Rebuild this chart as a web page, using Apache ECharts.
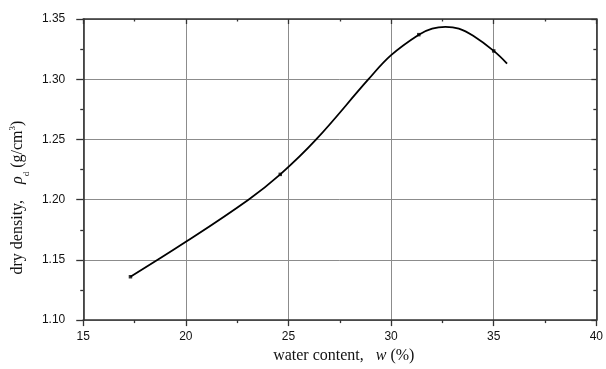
<!DOCTYPE html>
<html>
<head>
<meta charset="utf-8">
<script src="https://cdn.jsdelivr.net/npm/echarts@6/dist/echarts.min.js"></script>
<style>
  html, body { margin: 0; padding: 0; background: #fff; }
  #chart { width: 606px; height: 369px; }
</style>
</head>
<body>
<div id="chart"></div>
<script>
// Fitted compaction curve: water content (%) vs dry density (g/cm3)
const curveW   = [17.3, 20.0, 23.05, 24.6, 26.35, 28.9, 30.0, 31.35, 32.0, 32.65, 33.3, 34.0, 35.0, 35.65];
const curveRho = [1.136, 1.165, 1.200, 1.221, 1.250, 1.300, 1.320, 1.337, 1.342, 1.3435, 1.342, 1.336, 1.3235, 1.313];

// Measured test points
const testW   = [17.3, 24.6, 31.35, 35.0];
const testRho = [1.136, 1.221, 1.337, 1.3235];

// Axis ranges / ticks
const xTicks = [15, 20, 25, 30, 35, 40];
const yTicks = [1.10, 1.15, 1.20, 1.25, 1.30, 1.35];

const AXIS = '#333';
const GRID = '#8c8c8c';
const SERIF = '"Liberation Serif", "Times New Roman", serif';
const SANS = '"Liberation Sans", Arial, sans-serif';
const TITLE_SIZE = 16;

const chart = echarts.init(document.getElementById('chart'), null, { renderer: 'canvas' });

function xAx(top) {
  return {
    type: 'value',
    position: top ? 'top' : 'bottom',
    min: xTicks[0], max: xTicks[xTicks.length - 1], interval: xTicks[1] - xTicks[0],
    axisLine: { show: true, onZero: false, lineStyle: { color: AXIS, width: 1.6 } },
    axisTick: { show: true, inside: top, length: top ? 5 : 6, lineStyle: { color: AXIS, width: 1.3 } },
    minorTick: { show: true, splitNumber: 2, length: top ? 2.5 : 3, lineStyle: { color: AXIS, width: 1.3 } },
    splitLine: { show: !top, lineStyle: { color: GRID, width: 1 } },
    axisLabel: top ? { show: false } : { fontFamily: SANS, fontSize: 12, color: '#111', margin: 11 },
    name: top ? '' : '{t|water content,   }{i|w}{t| (%)}',
    nameLocation: 'middle',
    nameGap: 27,
    nameTextStyle: {
      padding: [0, 0, 0, 8],
      rich: {
        t: { fontFamily: SERIF, fontSize: TITLE_SIZE, color: '#111' },
        i: { fontFamily: SERIF, fontSize: TITLE_SIZE, fontStyle: 'italic', color: '#111' }
      }
    }
  };
}

function yAx(right) {
  return {
    type: 'value',
    position: right ? 'right' : 'left',
    min: yTicks[0], max: yTicks[yTicks.length - 1], interval: 0.05,
    axisLine: { show: true, onZero: false, lineStyle: { color: AXIS, width: 1.6 } },
    axisTick: { show: true, inside: right, length: right ? 5 : 7, lineStyle: { color: AXIS, width: 1.3 } },
    minorTick: { show: true, splitNumber: 2, length: 3, lineStyle: { color: AXIS, width: 1.3 } },
    splitLine: { show: !right, lineStyle: { color: GRID, width: 1 } },
    axisLabel: right ? { show: false } : {
      fontFamily: SANS, fontSize: 12, color: '#111', margin: 18,
      formatter: v => v.toFixed(2)
    },
    name: right ? '' : '{t|dry density,    }{i|ρ}{sub|d}{t| (g/cm}{sup|3}{t|)}',
    nameLocation: 'middle',
    nameGap: 46,
    nameTextStyle: {
      padding: [0, 56, 0, 0],
      rich: {
        t: { fontFamily: SERIF, fontSize: TITLE_SIZE, color: '#111', lineHeight: 20 },
        i: { fontFamily: SERIF, fontSize: TITLE_SIZE, fontStyle: 'italic', color: '#111', lineHeight: 20 },
        sub: { fontFamily: SERIF, fontSize: 9, color: '#111', verticalAlign: 'bottom', lineHeight: 20, padding: [0, 0, -3, 0] },
        sup: { fontFamily: SERIF, fontSize: 9, color: '#111', verticalAlign: 'top', lineHeight: 20, padding: [0, 0, 7, 0] }
      }
    }
  };
}

chart.setOption({
  animation: false,
  backgroundColor: '#fff',
  grid: { left: 82, right: 8, top: 19, bottom: 48, containLabel: false },
  xAxis: [xAx(false), xAx(true)],
  yAxis: [yAx(false), yAx(true)],
  series: [
    {
      type: 'line',
      xAxisIndex: 0, yAxisIndex: 0,
      data: curveW.map((w, i) => [w, curveRho[i]]),
      smooth: 0.4,
      showSymbol: false,
      lineStyle: { color: '#000', width: 1.8 },
      z: 3
    },
    {
      type: 'scatter',
      xAxisIndex: 0, yAxisIndex: 0,
      data: testW.map((w, i) => [w, testRho[i]]),
      symbol: 'rect',
      symbolSize: 3.5,
      itemStyle: { color: '#000' },
      z: 4
    }
  ]
});
</script>
</body>
</html>
